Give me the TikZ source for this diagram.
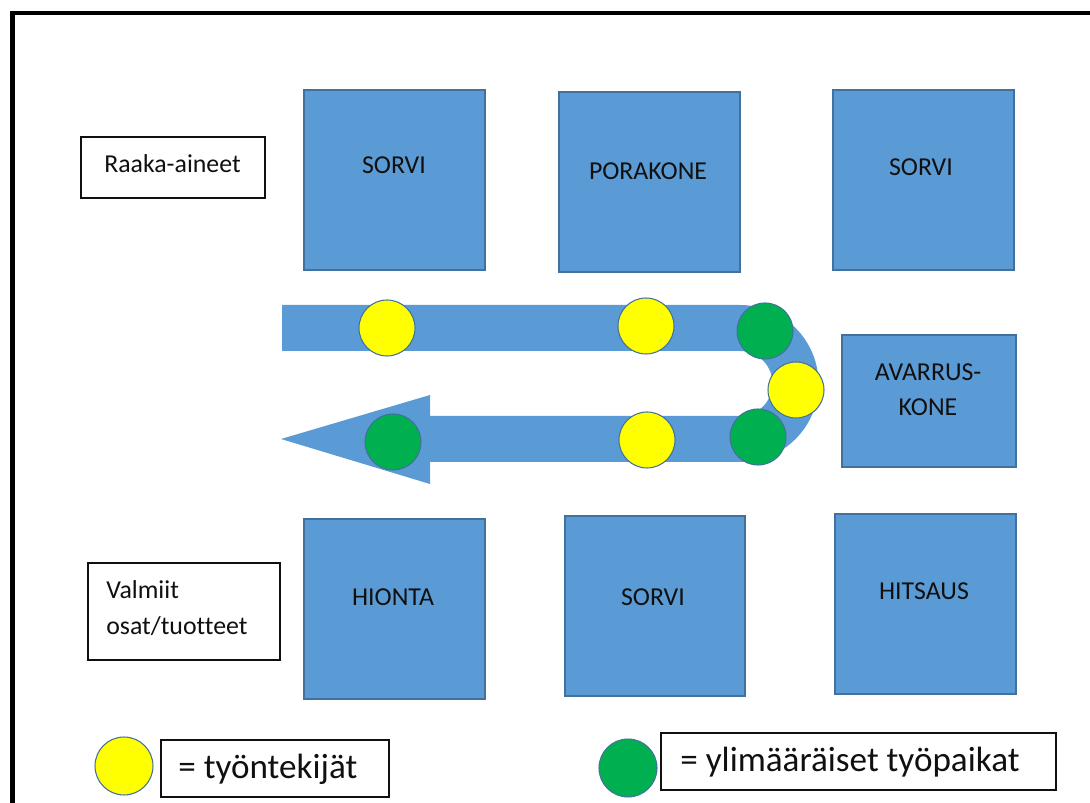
\documentclass[tikz,border=0pt]{standalone}
\usepackage{fontspec}
\setmainfont{Carlito}[Ligatures=NoCommon]
\usetikzlibrary{fit}
\definecolor{machblue}{HTML}{5B9BD5}
\definecolor{machedge}{HTML}{41719C}
\definecolor{workeryellow}{HTML}{FFFF00}
\definecolor{spotgreen}{HTML}{00B050}
\definecolor{inkgray}{HTML}{101010}

\begin{document}
\begin{tikzpicture}[x=0.02cm, y=-0.02cm,
  machine/.style={draw=machedge, line width=0.6pt, fill=machblue, inner sep=0pt},
  mtext/.style={font=\fontsize{14.7}{19.8}\selectfont, text=inkgray, align=center, inner sep=0pt},
  labelbox/.style={draw=inkgray, line width=0.9pt, fill=white, inner sep=0pt},
  ltext/.style={font=\fontsize{14.7}{20.4}\selectfont, text=inkgray, align=left, inner sep=0pt},
  legtext/.style={font=\fontsize{20}{24}\selectfont, text=inkgray, inner sep=0pt, anchor=west},
  worker/.style={circle, draw=machedge, line width=0.6pt, fill=workeryellow, minimum size=1.12cm, inner sep=0pt},
  spot/.style={circle, draw=machedge, line width=0.6pt, fill=spotgreen, minimum size=1.12cm, inner sep=0pt},
  flow/.style={fill=machblue, draw=none}
]
\useasboundingbox (0,0) rectangle (1090,803);
\clip (0,0) rectangle (1090,803);

% outer frame (runs past the right and bottom edges)
\draw[line width=2.3pt, black] (12.5,13) rectangle (1120,830);

% machines
\node[machine, fit={(304,90)(485,270)}] (sorviA) {};
\node[mtext] (sorviAt) at (394,165) {SORVI};
\node[machine, fit={(559,92)(740,272)}] (pora) {};
\node[mtext] (porat) at (648,171) {PORAKONE};
\node[machine, fit={(833,90)(1014,270)}] (sorviB) {};
\node[mtext] (sorviBt) at (921,167) {SORVI};
\node[machine, fit={(842,335)(1016,467)}] (avarrus) {};
\node[mtext] (avarrust) at (928,390) {AVARRUS-\\KONE};
\node[machine, fit={(304,519)(485,699)}] (hionta) {};
\node[mtext] (hiontat) at (393,597) {HIONTA};
\node[machine, fit={(565,516)(745,696)}] (sorviC) {};
\node[mtext] (sorviCt) at (653,597) {SORVI};
\node[machine, fit={(835,514)(1016,694)}] (hitsaus) {};
\node[mtext] (hitsaust) at (924,591) {HITSAUS};

% input and output labels
\node[labelbox, fit={(81,137)(265,198)}] (raaka) {};
\node[mtext] (raakat) at (172.5,164) {Raaka-aineet};
\node[labelbox, fit={(88,563)(280,660)}] (valmiit) {};
\node[ltext, anchor=north west] (valmiitt) at (106,580) {Valmiit\\osat/tuotteet};

% material flow: U-turn arrow
\path[flow] (282,305) -- (740,305)
  .. controls (783.4,305) and (818.5,340.1) .. (818.5,383.5)
  .. controls (818.5,426.9) and (783.4,462) .. (740,462)
  -- (430,462) -- (430,484) -- (281,439) -- (430,395) -- (430,416) -- (740,416)
  .. controls (757.95,416) and (772.5,401.45) .. (772.5,383.5)
  .. controls (772.5,365.55) and (757.95,351) .. (740,351)
  -- (282,351) -- cycle;

% workers and extra work spots along the flow
\node[worker] (w1) at (387,328) {};
\node[worker] (w2) at (646,326) {};
\node[spot]   (g1) at (765,331) {};
\node[worker] (w3) at (796,390) {};
\node[spot]   (g2) at (758,437) {};
\node[worker] (w4) at (647,440) {};
\node[spot]   (g3) at (393,442) {};

% legend
\node[worker, minimum size=1.16cm] (legw) at (124,766) {};
\node[labelbox, fit={(161,740)(389,797)}] (legwbox) {};
\node[legtext] (legwt) at (178,769) {= työntekijät};
\node[spot, minimum size=1.16cm] (legg) at (628,768) {};
\node[labelbox, fit={(661,733)(1056,790)}] (leggbox) {};
\node[legtext] (leggt) at (680,762) {= ylimääräiset työpaikat};
\end{tikzpicture}
\end{document}
